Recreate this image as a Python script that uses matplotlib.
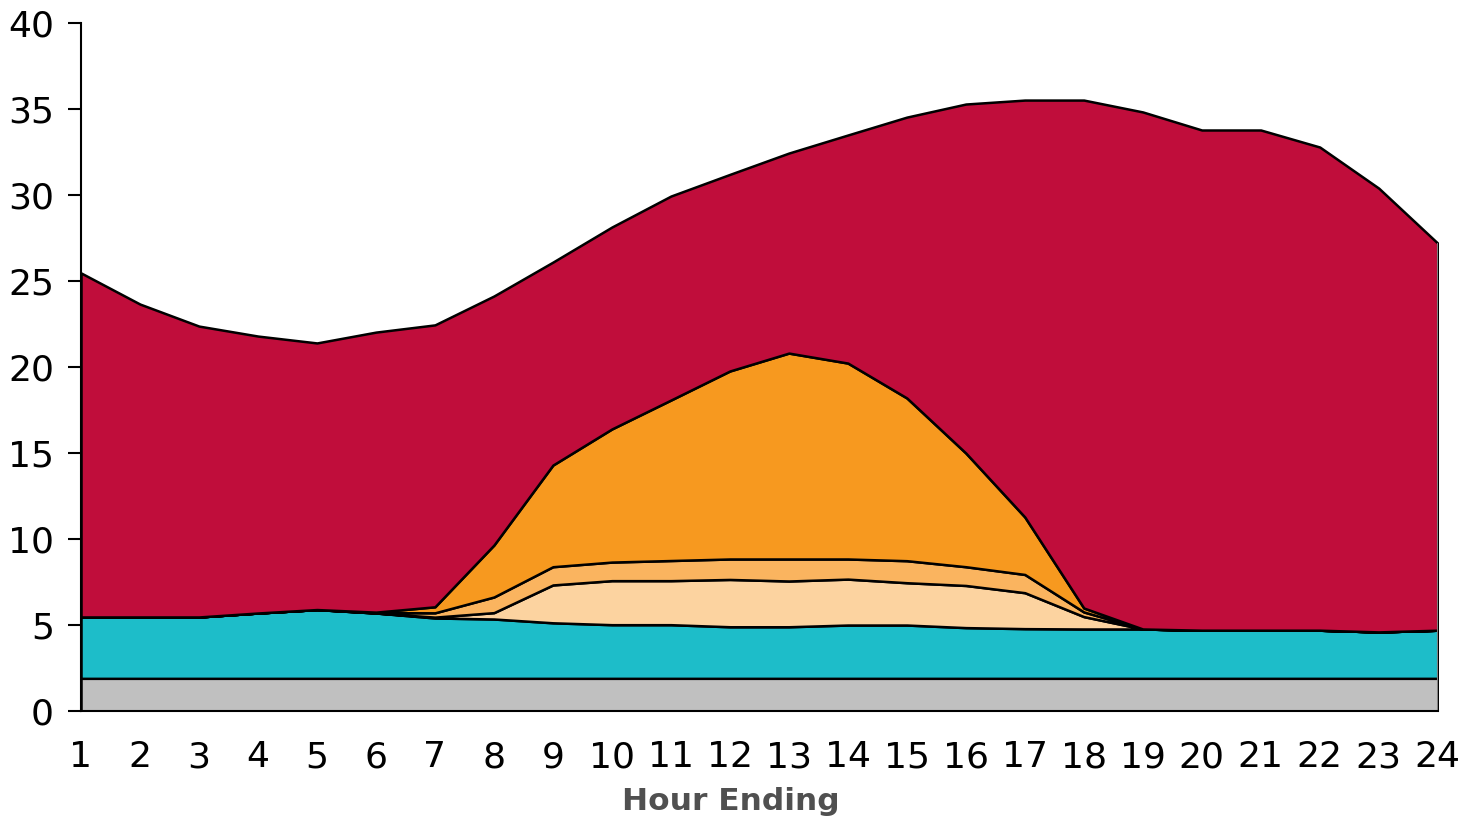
import numpy as np
import matplotlib
matplotlib.use("Agg")
import matplotlib.pyplot as plt

plt.rcParams['font.family'] = ['DejaVu Sans']

hours = list(range(1, 25))

# stacked layers, bottom to top (thickness of each band)
base = [1.9, 1.9, 1.9, 1.9, 1.9, 1.9, 1.9, 1.9, 1.9, 1.9, 1.9, 1.9,
        1.9, 1.9, 1.9, 1.9, 1.9, 1.9, 1.9, 1.9, 1.9, 1.9, 1.9, 1.9]
teal = [3.57, 3.57, 3.57, 3.8, 4.0, 3.8, 3.51, 3.45, 3.23, 3.12, 3.12, 3.0,
        3.0, 3.1, 3.1, 2.95, 2.89, 2.87, 2.87, 2.8, 2.8, 2.8, 2.7, 2.8]
light = [0, 0, 0, 0, 0, 0, 0.05, 0.37, 2.2, 2.56, 2.56, 2.75,
         2.66, 2.67, 2.46, 2.45, 2.09, 0.72, 0, 0, 0, 0, 0, 0]
mid = [0, 0, 0, 0, 0, 0.02, 0.25, 0.91, 1.06, 1.08, 1.17, 1.19,
       1.28, 1.17, 1.28, 1.09, 1.06, 0.27, 0, 0, 0, 0, 0, 0]
orange = [0, 0, 0, 0, 0, 0.03, 0.35, 3.02, 5.91, 7.74, 9.33, 10.93,
          11.97, 11.39, 9.46, 6.61, 3.34, 0.23, 0, 0, 0, 0, 0, 0]
crimson = [20.0, 18.19, 16.91, 16.1, 15.5, 16.28, 16.39, 14.48, 11.8, 11.74, 11.86, 11.43,
           11.63, 13.26, 16.33, 20.29, 24.24, 29.53, 30.06, 29.08, 29.08, 28.09, 25.8, 22.5]

colors = ['#c0c0c0', '#1dbdc9', '#fcd3a0', '#fab45f', '#f7991f', '#c00d3b']

fig = plt.figure(figsize=(14.62, 8.22), dpi=100)
ax = fig.add_axes([0.0554, 0.135, 0.928, 0.837])

layers = [base, teal, light, mid, orange, crimson]
bottom = np.zeros(len(hours))
for vals, c in zip(layers, colors):
    top = bottom + np.array(vals)
    ax.fill_between(hours, bottom, top, facecolor=c, edgecolor='black', linewidth=1.8)
    bottom = top
ax.vlines(hours[-1], 0, bottom[-1], color='#808080', linewidth=1.5)

ax.set_xlim(1, 24)
ax.set_ylim(0, 40)
ax.set_xticks(hours)
ax.set_yticks(range(0, 41, 5))
for s in ['top', 'right']:
    ax.spines[s].set_visible(False)
ax.spines['left'].set_linewidth(1.5)
ax.spines['bottom'].set_linewidth(1.5)
ax.tick_params(axis='y', length=9.5, width=1.5, labelsize=26, pad=10)
ax.tick_params(axis='x', length=0, labelsize=26, pad=21)
fig.text(0.5, (822 - 801) / 822, 'Hour Ending', fontsize=22.5, fontweight='bold',
         color='#505050', ha='center', va='center')

fig.savefig('out.png', dpi=100)
